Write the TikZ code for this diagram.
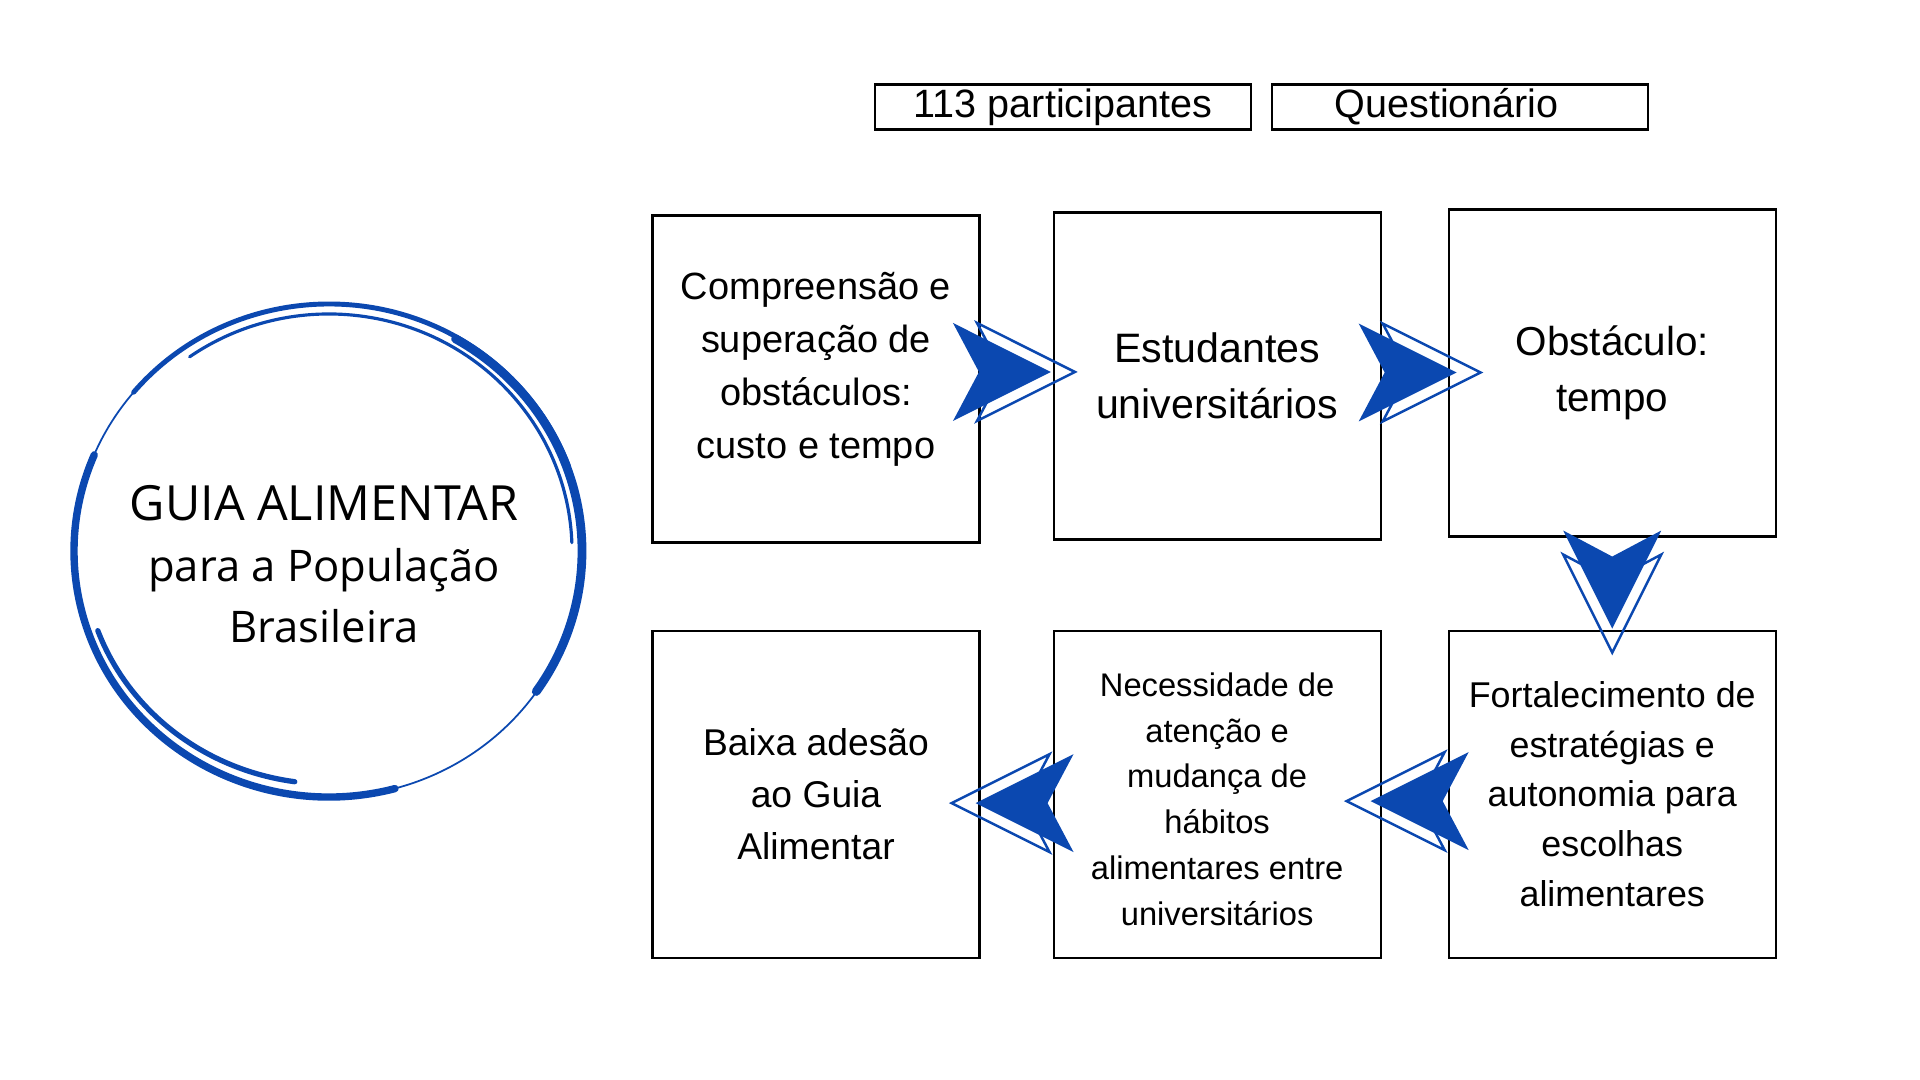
\documentclass[tikz,border=0pt]{standalone}
\usepackage{fontspec}
\setmainfont{Liberation Sans}
\newfontfamily\guiafont{Open Sans}
\usepackage{xcolor}
\usetikzlibrary{positioning,calc}
\definecolor{GBlue}{HTML}{0B48B0}

\tikzset{
  chev/.pic={
    \draw[GBlue, line width=0.7pt] (0.24,0.49) -- (1.22,0) -- (0.24,-0.49) -- (0.50,0) -- cycle;
    \fill[GBlue] (0,0.49) -- (0.98,0) -- (0,-0.49) -- (0.26,0) -- cycle;
  }
}

\begin{document}
\begin{tikzpicture}[
  blk/.style={draw=black, line width=0.6pt, minimum width=3.27cm, minimum height=3.27cm,
    align=center, inner sep=0pt},
  tag/.style={draw=black, line width=0.6pt, minimum width=3.76cm, minimum height=0.45cm,
    inner sep=0pt, font=\fontsize{11.25}{13}\selectfont},
  guiatxt/.style={align=center, font=\guiafont\fontsize{12.4}{17.4}\selectfont},
  brush/.style={GBlue, line cap=round}
]
  \useasboundingbox (0,0) rectangle (19.2,10.8);

  % method tags
  \node[tag] (part) at (10.63,9.73) {113 participantes};
  \node[tag, right=0.19cm of part] (quest) {Questionário\kern0.27cm};

  % first row
  \node[blk] (a) at (8.16,7.01) {};
  \node[align=center, font=\fontsize{10.8}{15.1}\selectfont] (atxt) at ($(a)+(0,0.10)$)
    {Compreensão e\\superação de\\obstáculos:\\custo e tempo};
  \node[blk, right=0.72cm of a, yshift=0.03cm, font=\fontsize{11.7}{16}\selectfont] (b)
    {Estudantes\\universitários};
  \node[blk, right=0.66cm of b, yshift=0.03cm, font=\fontsize{11.5}{16}\selectfont] (c)
    {Obstáculo:\\tempo};

  % second row
  \node[blk, below=0.86cm of a, font=\fontsize{10.6}{14.8}\selectfont] (d)
    {Baixa adesão\\ao Guia\\Alimentar};
  \node[blk, right=0.72cm of d, font=\fontsize{9.3}{13}\selectfont] (e)
    {\\[-0.12cm]Necessidade de\\atenção e\\mudança de\\hábitos\\alimentares entre\\universitários};
  \node[blk, right=0.66cm of e, font=\fontsize{10.2}{14.2}\selectfont] (f)
    {Fortalecimento de\\estratégias e\\autonomia para\\escolhas\\alimentares};

  % chevrons
  \pic at ($(a.east)+(-0.276,0.07)$) {chev};
  \pic at ($(b.east)+(-0.23,0.035)$) {chev};
  \pic[rotate=-90] at ($(c.south)+(0,0.07)$) {chev};
  \pic[rotate=180] at ($(f.west)+(0.21,-0.07)$) {chev};
  \pic[rotate=180] at ($(e.west)+(0.21,-0.09)$) {chev};

  % hand drawn circle
  \coordinate (cc) at (3.29,5.29);
  \draw[brush, line width=0.5pt] ($(cc)+(157:2.55 and 2.47)$) arc[start angle=157, end angle=140, x radius=2.55, y radius=2.47];
  \draw[brush, line width=1.4pt] ($(cc)+(140:2.55 and 2.47)$) arc[start angle=140, end angle=20, x radius=2.55, y radius=2.47];
  \draw[brush, line width=2.5pt] ($(cc)+(60:2.53 and 2.45)$) arc[start angle=60, end angle=-35, x radius=2.53, y radius=2.45];
  \draw[brush, line width=0.5pt] ($(cc)+(-35:2.53 and 2.46)$) arc[start angle=-35, end angle=-75, x radius=2.53, y radius=2.46];
  \draw[brush, line width=2.1pt] ($(cc)+(-75:2.55 and 2.46)$) arc[start angle=-75, end angle=-203, x radius=2.55, y radius=2.46];
  \draw[brush, line width=0.9pt] ($(cc)+(125:2.43 and 2.37)$) arc[start angle=125, end angle=2, x radius=2.43, y radius=2.37];
  \draw[brush, line width=1.5pt] ($(cc)+(200:2.46 and 2.33)$) arc[start angle=200, end angle=262, x radius=2.46, y radius=2.33];
  \node[guiatxt] (guia) at ($(cc)+(-0.05,-0.135)$)
    {{\fontsize{13.8}{17.4}\selectfont GUIA ALIMENTAR}\\para a População\\Brasileira};
\end{tikzpicture}
\end{document}
